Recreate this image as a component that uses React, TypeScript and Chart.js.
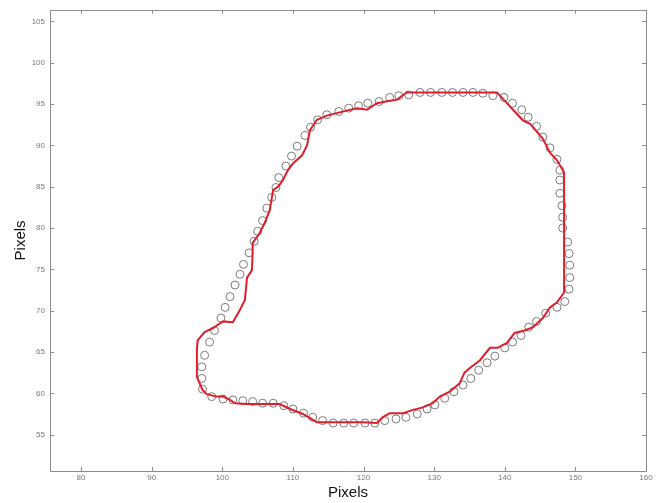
import React, { useEffect, useRef } from "react";
import { Chart, registerables } from "chart.js";

Chart.register(...registerables);

// Sampled boundary points (open circles)
const circleX = [
  103.8, 104.5, 105.0, 105.7, 106.3, 107.0, 107.6, 108.0, 109.0, 109.8,
  110.6, 111.7, 112.5, 113.5, 114.8, 116.5, 117.9, 119.3, 120.6, 122.2,
  123.7, 125.0, 126.4, 128.0, 129.5, 131.1, 132.6, 134.1, 135.5, 136.9,
  138.3, 139.9, 141.1, 142.4, 143.3, 144.5, 145.4, 146.4, 147.4, 147.8,
  147.8, 147.8, 148.1, 148.2, 148.2, 148.9, 149.1, 149.2, 149.2, 149.1,
  148.5, 147.4, 145.8, 144.5, 143.4, 142.3, 141.1, 140.0, 138.6, 137.5,
  136.3, 135.2, 134.1, 132.8, 131.5, 130.1, 129.0, 127.6, 126.0, 124.6,
  123.0, 121.6, 120.2, 118.6, 117.2, 115.7, 114.2, 112.8, 111.5, 110.0,
  108.7, 107.2, 105.7, 104.3, 102.9, 101.5, 100.1, 98.5, 97.2, 97.1,
  97.1, 97.5, 98.2, 98.9, 99.8, 100.4, 101.1, 101.8, 102.5, 103.0,
];
const circleY = [
  77.0, 78.4, 79.6, 80.9, 82.4, 83.7, 84.9, 86.1, 87.5, 88.7,
  89.9, 91.2, 92.2, 93.1, 93.7, 94.1, 94.5, 94.8, 95.1, 95.3,
  95.8, 96.0, 96.1, 96.4, 96.4, 96.4, 96.4, 96.4, 96.4, 96.3,
  96.0, 95.8, 95.1, 94.3, 93.4, 92.3, 91.0, 89.7, 88.3, 87.0,
  85.8, 84.2, 82.7, 81.3, 80.0, 78.3, 76.9, 75.5, 74.0, 72.6,
  71.1, 70.4, 69.7, 68.7, 68.0, 67.0, 66.2, 65.5, 64.5, 63.7,
  62.8, 61.8, 61.0, 60.2, 59.4, 58.6, 58.1, 57.5, 57.1, 56.9,
  56.7, 56.4, 56.4, 56.4, 56.4, 56.4, 56.7, 57.1, 57.6, 58.1,
  58.5, 58.8, 58.8, 59.0, 59.1, 59.2, 59.3, 59.6, 60.5, 61.8,
  63.2, 64.6, 66.2, 67.6, 69.1, 70.4, 71.7, 73.1, 74.4, 75.6,
];

// Traced contour (red line)
const contourX = [
  104.3, 104.3, 105.3, 106.0, 106.7, 107.2, 107.9, 108.6, 109.3, 110.0,
  111.3, 112.0, 112.4, 113.4, 114.8, 116.2, 117.6, 119.1, 120.5, 121.9,
  123.7, 124.7, 126.1, 138.9, 140.3, 142.6, 143.6, 145.4, 146.4, 147.4,
  148.4, 148.4, 147.4, 146.4, 145.4, 144.0, 142.8, 141.4, 140.3, 139.0,
  137.9, 136.5, 135.1, 134.3, 133.6, 132.2, 130.8, 129.8, 128.4, 127.0,
  125.6, 123.7, 122.7, 121.9, 119.9, 116.6, 113.4, 111.4, 109.6, 108.1,
  103.5, 101.8, 101.1, 100.1, 99.2, 97.8, 97.2, 96.7, 96.4, 96.4,
  96.5, 97.5, 98.7, 99.4, 100.1, 101.5, 102.5, 103.2, 103.5, 104.2,
  104.3,
];
const contourY = [
  77.3, 78.2, 79.4, 80.6, 82.1, 84.6, 85.0, 85.8, 87.0, 87.8,
  88.8, 90.0, 91.8, 93.1, 93.6, 93.9, 94.2, 94.5, 94.3, 95.1,
  95.4, 95.5, 96.4, 96.4, 95.1, 93.0, 92.6, 90.8, 89.1, 88.2,
  86.7, 72.2, 71.0, 70.4, 69.1, 68.0, 67.6, 67.3, 66.1, 65.5,
  65.5, 64.0, 63.1, 62.5, 61.2, 60.2, 59.6, 58.8, 58.3, 58.0,
  57.6, 57.6, 57.1, 56.4, 56.5, 56.5, 56.5, 57.5, 58.1, 58.7,
  58.7, 58.8, 59.2, 59.6, 59.6, 59.9, 60.4, 61.4, 62.0, 65.2,
  66.4, 67.4, 67.9, 68.3, 68.7, 68.6, 70.1, 71.3, 74.0, 74.9,
  77.3,
];

const xTicks = [80, 90, 100, 110, 120, 130, 140, 150, 160];
const yTicks = [55, 60, 65, 70, 75, 80, 85, 90, 95, 100, 105];
const xRange = [75.6, 160];
const yRange = [50.6, 106.4];

const FONT = "'Liberation Sans', Arial, Helvetica, sans-serif";

const framePlugin = {
  id: "matlabFrame",
  afterDatasetsDraw(chart: any) {
    const { ctx, chartArea } = chart;
    const { left, right, top, bottom } = chartArea;
    const xs = chart.scales.x;
    const ys = chart.scales.y;
    const tl = 4;
    ctx.save();
    ctx.strokeStyle = "#8c8c8c";
    ctx.lineWidth = 1;
    ctx.beginPath();
    ctx.rect(Math.round(left) + 0.5, Math.round(top) + 0.5, Math.round(right - left), Math.round(bottom - top));
    ctx.stroke();
    ctx.beginPath();
    for (const v of xTicks) {
      const px = Math.round(xs.getPixelForValue(v)) + 0.5;
      ctx.moveTo(px, bottom);
      ctx.lineTo(px, bottom - tl);
      ctx.moveTo(px, top);
      ctx.lineTo(px, top + tl);
    }
    for (const v of yTicks) {
      const py = Math.round(ys.getPixelForValue(v)) + 0.5;
      ctx.moveTo(left, py);
      ctx.lineTo(left + tl, py);
      ctx.moveTo(right, py);
      ctx.lineTo(right - tl, py);
    }
    ctx.stroke();
    ctx.restore();
  },
};

export default function App() {
  const ref = useRef<HTMLCanvasElement | null>(null);

  useEffect(() => {
    if (!ref.current) return;
    const circles = circleX.map((x, i) => ({ x, y: circleY[i] }));
    const contour = contourX.map((x, i) => ({ x, y: contourY[i] }));
    const chart = new Chart(ref.current, {
      type: "scatter",
      data: {
        datasets: [
          {
            label: "contour",
            data: contour,
            showLine: true,
            borderColor: "#dc1f2c",
            borderWidth: 2,
            pointRadius: 0,
            fill: false,
            tension: 0,
          },
          {
            label: "points",
            data: circles,
            showLine: false,
            pointStyle: "circle",
            pointRadius: 4,
            pointBorderWidth: 1,
            pointBorderColor: "#7a7a7a",
            pointBackgroundColor: "rgba(0,0,0,0)",
          },
        ],
      },
      options: {
        responsive: false,
        animation: false,
        events: [],
        layout: { padding: { top: 9, right: 19, left: 0, bottom: 0 } },
        plugins: {
          legend: { display: false },
          tooltip: { enabled: false },
        },
        scales: {
          x: {
            type: "linear",
            min: xRange[0],
            max: xRange[1],
            grid: { display: false, drawTicks: false },
            border: { display: false },
            afterBuildTicks: (s: any) => {
              s.ticks = xTicks.map((v) => ({ value: v }));
            },
            afterFit: (s: any) => {
              s.height = 32;
            },
            ticks: {
              autoSkip: false,
              maxRotation: 0,
              padding: 2,
              color: "#777",
              font: { family: FONT, size: 8 },
            },
            title: {
              display: true,
              text: "Pixels",
              color: "#111",
              font: { family: FONT, size: 15 },
              padding: { top: 0, bottom: 1 },
            },
          },
          y: {
            type: "linear",
            min: yRange[0],
            max: yRange[1],
            grid: { display: false, drawTicks: false },
            border: { display: false },
            afterBuildTicks: (s: any) => {
              s.ticks = yTicks.map((v) => ({ value: v }));
            },
            afterFit: (s: any) => {
              s.width = 50;
            },
            ticks: {
              autoSkip: false,
              padding: 5,
              color: "#777",
              font: { family: FONT, size: 8 },
            },
            title: {
              display: true,
              text: "Pixels",
              color: "#111",
              font: { family: FONT, size: 15 },
              padding: { top: 12, bottom: 0 },
            },
          },
        },
      },
      plugins: [framePlugin],
    });
    return () => chart.destroy();
  }, []);

  return (
    <div style={{ position: "absolute", left: 0, top: 0, width: 665, height: 503, background: "#fff" }}>
      <canvas ref={ref} width={665} height={503} style={{ display: "block" }} />
    </div>
  );
}
